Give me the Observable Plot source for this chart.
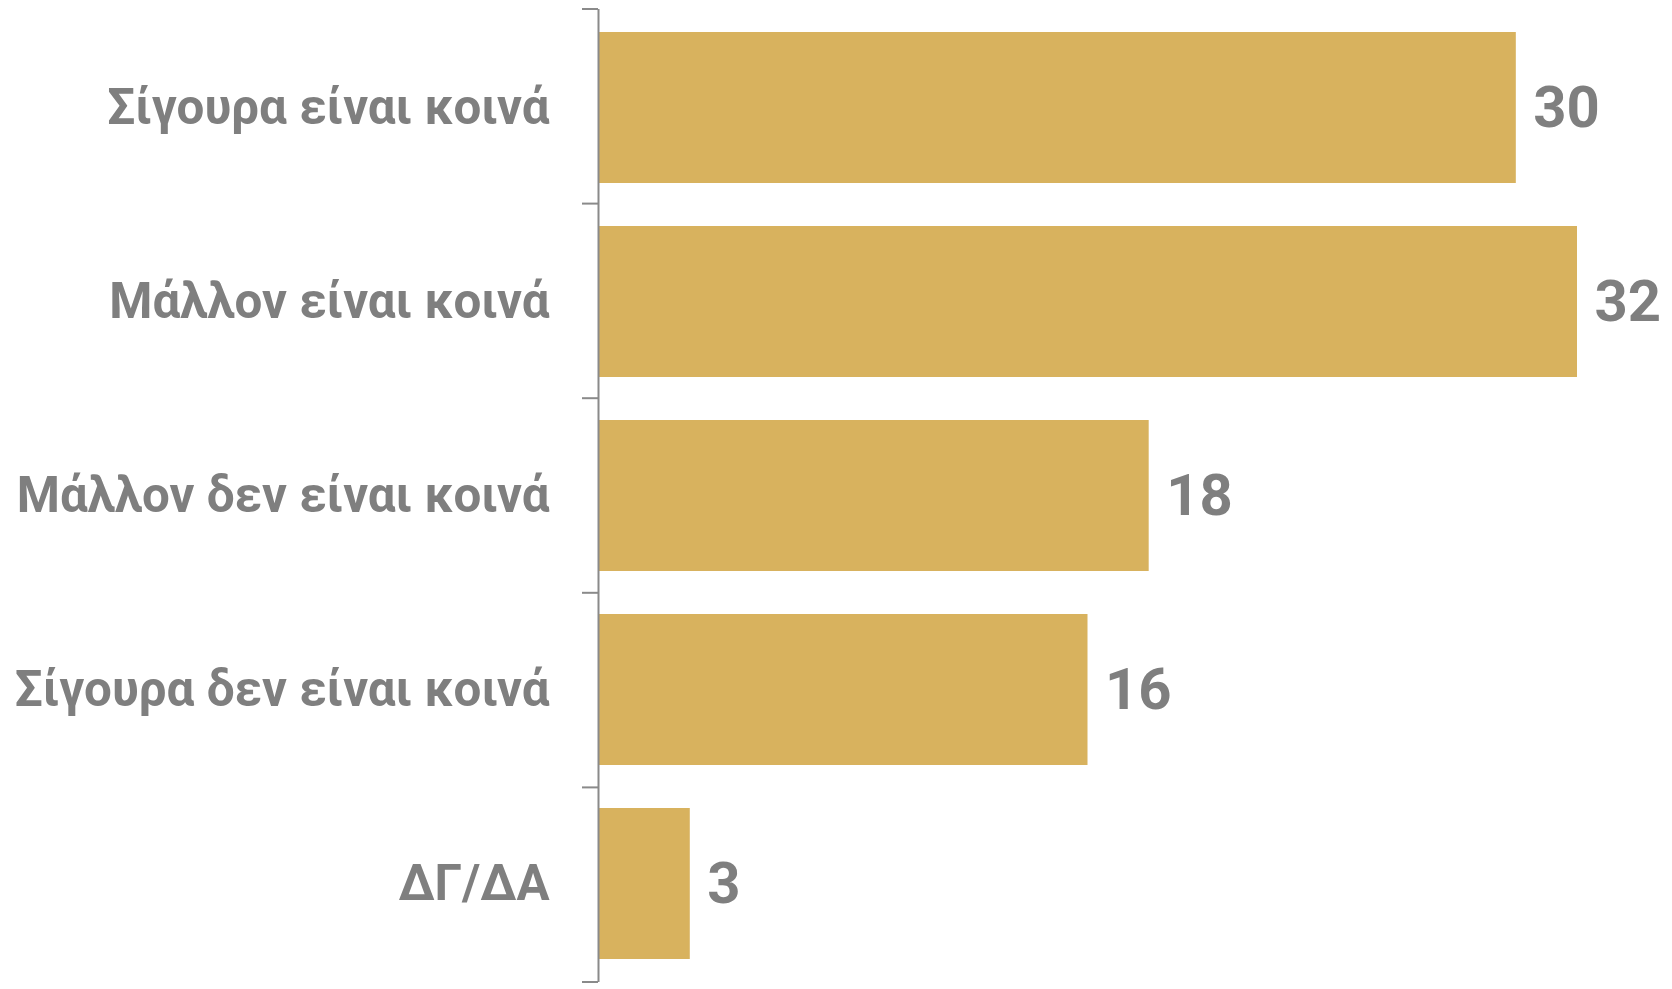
<!DOCTYPE html>
<html>
<head>
<meta charset="utf-8">
<script src="https://cdn.jsdelivr.net/npm/d3@7"></script>
<script src="https://cdn.jsdelivr.net/npm/@observablehq/plot@0.6"></script>
<style>
  html, body { margin: 0; padding: 0; background: #ffffff; }
  #chart svg { display: block; }
</style>
</head>
<body>
<div id="chart"></div>
<script>
const categories = [
  "Σίγουρα είναι κοινά",
  "Μάλλον είναι κοινά",
  "Μάλλον δεν είναι κοινά",
  "Σίγουρα δεν είναι κοινά",
  "ΔΓ/ΔΑ"
];
const values = [30, 32, 18, 16, 3];

const data = categories.map((c, i) => ({category: c, value: values[i]}));

const gray = "#7f7f7f";
const barColor = "#D8B25E";
const font = "Roboto, 'Open Sans', sans-serif";

// tick marks at band boundaries (Excel-style category axis)
function boundaryTicks(index, scales, values, dimensions, context) {
  const {marginTop, marginBottom, height} = dimensions;
  const n = categories.length;
  const step = (height - marginTop - marginBottom) / n;
  const g = d3.select(context.document.createElementNS("http://www.w3.org/2000/svg", "g"));
  const x0 = scales.x(0);
  for (let i = 0; i <= n; i++) {
    const y = marginTop + i * step;
    g.append("line")
      .attr("x1", x0 - 16).attr("x2", x0)
      .attr("y1", y).attr("y2", y)
      .attr("stroke", "#8a8a8a").attr("stroke-width", 2);
  }
  return g.node();
}

const chart = Plot.plot({
  width: 1672,
  height: 989,
  marginLeft: 598,
  marginRight: 95,
  marginTop: 9,
  marginBottom: 7,
  x: {domain: [0, 32], axis: null},
  y: {domain: categories, paddingInner: 0.224, paddingOuter: 0.112, axis: null},
  style: {fontFamily: font, background: "#ffffff"},
  marks: [
    Plot.barX(data, {x: "value", y: "category", fill: barColor}),
    Plot.ruleX([0], {stroke: "#8a8a8a", strokeWidth: 2}),
    boundaryTicks,
    Plot.text(data, {
      x: () => 0, y: "category", text: "category",
      textAnchor: "end", dx: -49,
      fontSize: 49.3, fontWeight: "bold", fill: gray, fontFamily: font
    }),
    Plot.text(data, {
      x: "value", y: "category", text: d => String(d.value),
      textAnchor: "start", dx: 17,
      fontSize: 58, fontWeight: "bold", fill: gray, fontFamily: font
    })
  ]
});

document.getElementById("chart").appendChild(chart);
</script>
</body>
</html>
